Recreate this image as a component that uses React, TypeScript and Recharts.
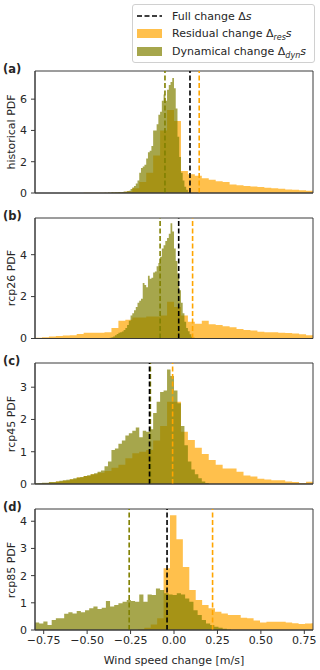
import React from "react";
import { Area, ComposedChart, ReferenceArea, ReferenceLine, XAxis, YAxis } from "recharts";

const X_TICKS = [-0.75, -0.5, -0.25, 0, 0.25, 0.5, 0.75];
const SCENARIOS = ["historical", "rcp26", "rcp45", "rcp85"];
const PANEL_TAGS = ["(a)", "(b)", "(c)", "(d)"];
const Y_MAX = [7.8, 5.75, 3.75, 4.45];
const Y_TICKS = [[0, 2, 4, 6], [0, 2, 4], [0, 1, 2, 3], [0, 1, 2, 3, 4]];

// residual change (orange) – bins start / width, then heights
const resStart = [-0.8, -0.8, -0.8, -0.8];
const resWidth = [0.04, 0.04, 0.04, 0.037];
const resHistorical = [
  0, 0, 0, 0, 0, 0, 0, 0.01, 0.01, 0.01, 0.02, 0.03, 0.05, 0.1, 0.3, 0.7, 1.3, 2.4, 4.0, 5.3,
  4.6, 1.4, 1.2, 1.1, 0.95, 0.85, 0.75, 0.7, 0.55, 0.5, 0.45, 0.42, 0.38, 0.33, 0.3, 0.27, 0.22, 0.2, 0.17, 0.14,
];
const resRcp26 = [
  0.03, 0.06, 0.1, 0.12, 0.14, 0.16, 0.22, 0.27, 0.27, 0.28, 0.3, 0.5, 0.85, 0.9, 1.0, 1.0, 1.05, 1.05, 1.1, 1.75,
  1.5, 1.1, 0.8, 0.7, 0.85, 0.68, 0.65, 0.58, 0.54, 0.45, 0.4, 0.38, 0.32, 0.3, 0.3, 0.28, 0.26, 0.24, 0.2, 0.15,
];
const resRcp45 = [
  0, 0.02, 0.05, 0.08, 0.1, 0.15, 0.2, 0.25, 0.3, 0.35, 0.4, 0.5, 0.6, 0.8, 0.95, 1.0, 1.05, 1.35, 1.8, 2.55,
  2.55, 1.62, 1.36, 1.12, 0.93, 0.74, 0.6, 0.48, 0.48, 0.38, 0.26, 0.23, 0.16, 0.14, 0.12, 0.12, 0.08, 0.06, 0.03, 0.07,
];
const resRcp85 = [
  0, 0, 0, 0, 0, 0, 0, 0, 0, 0, 0, 0, 0, 0, 0, 0, 0.03, 0.08, 0.2, 0.43,
  2.27, 4.22, 3.34, 2.32, 1.47, 1.1, 0.92, 0.8, 0.67, 0.61, 0.55, 0.55, 0.45, 0.43, 0.35, 0.28, 0.3, 0.3, 0.3, 0.28,
  0.25, 0.22, 0.24, 0.25,
];

// dynamical change (olive)
const dynStart = [-0.4, -0.4, -0.8, -0.8];
const dynWidth = [0.01, 0.01, 0.02, 0.024];
const dynHistorical = [
  0.02, 0, 0.03, 0.02, 0.04, 0.03, 0.05, 0.04, 0.06, 0.05, 0.07, 0.1, 0.08, 0.12, 0.15, 0.25, 0.35, 0.45, 0.6, 0.8,
  1.3, 1.6, 1.7, 1.8, 2.2, 2.6, 2.7, 3.0, 4.0, 4.0, 4.4, 5.0, 5.2, 5.9, 6.3, 5.9, 6.6, 6.9, 7.1, 7.35,
  6.7, 5.4, 3.6, 2.3, 1.3, 0.8, 0.4, 0.2, 0.06,
];
const dynRcp26 = [
  0.01, 0.02, 0.02, 0.04, 0.06, 0.1, 0.15, 0.22, 0.27, 0.3, 0.33, 0.4, 0.5, 0.65, 0.85, 1.1, 1.2, 1.35, 1.5, 1.7,
  1.8, 1.9, 2.65, 2.55, 2.45, 3.0, 2.85, 2.9, 3.15, 3.2, 3.45, 3.6, 3.9, 4.3, 4.45, 4.65, 4.8, 5.0, 5.5, 5.1,
  4.3, 3.7, 3.1, 2.3, 1.7, 1.2, 0.8, 0.5, 0.35, 0.2, 0.08, 0.03,
];
const dynRcp45 = [
  0.02, 0.03, 0.04, 0.04, 0.06, 0.06, 0.08, 0.1, 0.12, 0.13, 0.15, 0.18, 0.2, 0.22, 0.25, 0.27, 0.3, 0.33, 0.38, 0.42,
  0.55, 0.7, 1.05, 1.1, 1.25, 1.35, 1.5, 1.57, 1.65, 1.75, 1.45, 1.65, 1.62, 1.7, 2.2, 2.55, 2.85, 2.9, 3.55, 3.35,
  2.9, 2.5, 1.8, 1.2, 0.7, 0.45, 0.3, 0.18, 0.08, 0.03,
];
const dynRcp85 = [
  0.28, 0.24, 0.31, 0.18, 0.37, 0.43, 0.43, 0.6, 0.65, 0.61, 0.7, 0.65, 0.73, 0.8, 0.86, 0.77, 0.82, 1.07, 0.86, 0.92,
  0.98, 1.04, 1.1, 1.07, 1.04, 1.31, 1.04, 1.31, 1.29, 1.53, 1.47, 1.35, 1.31, 1.29, 1.35, 1.31, 1.16, 1.04, 0.73, 0.55,
  0.37, 0.24, 0.18, 0.12, 0.08, 0.05, 0.02,
];

// mean changes (dashed lines)
const fullMean = [0.092, 0.027, -0.141, -0.04];
const resMean = [0.145, 0.107, -0.008, 0.222];
const dynMean = [-0.052, -0.08, -0.136, -0.258];

const resHists = [resHistorical, resRcp26, resRcp45, resRcp85];
const dynHists = [dynHistorical, dynRcp26, dynRcp45, dynRcp85];

const ORANGE = "#FFA500";
const OLIVE = "#808000";
const FRAME = "#3a3a3a";
const TEXT = "#262626";
const FONT = "'DejaVu Sans', sans-serif";

const PANEL_TOP = [71, 217.5, 363, 509];
const PLOT_H = [122, 120.5, 121, 121];

function steps(start: number, width: number, vals: number[]) {
  const pts = vals.map((v, i) => ({ x: start + i * width, y: v }));
  pts.push({ x: start + vals.length * width, y: 0 });
  return pts;
}

const fmtX = (v: number) => (v < 0 ? "\u2212" + Math.abs(v).toFixed(2) : v.toFixed(2));

function Panel({ i }: { i: number }) {
  const last = i === 3;
  const bottomH = last ? 36 : 6;
  const tickStyle = { fill: TEXT, fontSize: 11, fontFamily: FONT };
  const res = steps(resStart[i], resWidth[i], resHists[i]);
  const dyn = steps(dynStart[i], dynWidth[i], dynHists[i]);
  return (
    <div style={{ position: "absolute", left: 0, top: PANEL_TOP[i] - 5 }}>
      <ComposedChart width={320} height={5 + PLOT_H[i] + bottomH} margin={{ top: 5, right: 7, bottom: 0, left: 0 }}>
        <XAxis xAxisId="b" type="number" dataKey="x" domain={[-0.8, 0.8]} allowDataOverflow ticks={X_TICKS}
          tick={last ? tickStyle : false} tickFormatter={fmtX} tickSize={4} tickMargin={2} height={bottomH}
          stroke={FRAME} interval={0}
          label={last ? { value: "Wind speed change [m/s]", position: "insideBottom", offset: 2, fill: TEXT, fontSize: 11, fontFamily: FONT } : undefined} />
        <YAxis yAxisId="l" type="number" domain={[0, Y_MAX[i]]} allowDataOverflow ticks={Y_TICKS[i]} interval={0}
          width={35} tickSize={4} tickMargin={4} tick={tickStyle} stroke={FRAME} />
        <Area xAxisId="b" yAxisId="l" data={res} dataKey="y" type="stepAfter" fill={ORANGE} fillOpacity={0.7}
          stroke="none" isAnimationActive={false} />
        <Area xAxisId="b" yAxisId="l" data={dyn} dataKey="y" type="stepAfter" fill={OLIVE} fillOpacity={0.7}
          stroke="none" isAnimationActive={false} />
        <ReferenceLine xAxisId="b" yAxisId="l" x={dynMean[i]} stroke={OLIVE} strokeWidth={1.6} strokeDasharray="5 2.5" />
        <ReferenceLine xAxisId="b" yAxisId="l" x={resMean[i]} stroke={ORANGE} strokeWidth={1.6} strokeDasharray="5 2.5" />
        <ReferenceLine xAxisId="b" yAxisId="l" x={fullMean[i]} stroke="#000" strokeWidth={1.6} strokeDasharray="5 2.5" />
        <ReferenceArea xAxisId="b" yAxisId="l" x1={-0.8} x2={0.8} y1={0} y2={Y_MAX[i]} fill="none"
          stroke={FRAME} strokeWidth={1} fillOpacity={0} />
      </ComposedChart>
      <div style={{ position: "absolute", left: 3, top: -3, fontSize: 11.5, fontWeight: "bold", color: TEXT, lineHeight: "12px" }}>
        {PANEL_TAGS[i]}
      </div>
      <div style={{
        position: "absolute", left: 12, top: 5 + PLOT_H[i] / 2, transform: "translate(-50%, -50%) rotate(-90deg)",
        whiteSpace: "nowrap", fontSize: 11, color: TEXT, lineHeight: "12px",
      }}>
        {SCENARIOS[i]} PDF
      </div>
    </div>
  );
}

function Legend() {
  const row = { position: "absolute" as const, left: 0, height: 18, display: "flex", alignItems: "center" };
  const sub = { fontSize: 8, fontStyle: "italic" as const, verticalAlign: "-3px" };
  return (
    <div style={{
      position: "absolute", left: 132, top: 4, width: 183, height: 59, border: "1px solid #d0d0d0",
      borderRadius: 3, background: "#fff", fontSize: 11, color: TEXT, boxSizing: "border-box",
    }}>
      <div style={{ ...row, top: 2 }}>
        <svg width={36} height={10} style={{ marginLeft: 3 }}>
          <line x1={1} y1={5} x2={26} y2={5} stroke="#000" strokeWidth={1.6} strokeDasharray="5 2.5" />
        </svg>
        <span>Full change Δ<i>s</i></span>
      </div>
      <div style={{ ...row, top: 20 }}>
        <svg width={36} height={10} style={{ marginLeft: 3 }}>
          <rect x={1} y={0} width={25} height={9} fill={ORANGE} fillOpacity={0.7} />
        </svg>
        <span>Residual change Δ<span style={sub}>res</span><i>s</i></span>
      </div>
      <div style={{ ...row, top: 38 }}>
        <svg width={36} height={10} style={{ marginLeft: 3 }}>
          <rect x={1} y={0} width={25} height={9} fill={OLIVE} fillOpacity={0.7} />
        </svg>
        <span>Dynamical change Δ<span style={sub}>dyn</span><i>s</i></span>
      </div>
    </div>
  );
}

export default function App() {
  return (
    <div style={{ position: "absolute", left: 0, top: 0, width: 320, height: 670, background: "#fff", fontFamily: FONT }}>
      <Legend />
      {[0, 1, 2, 3].map((i) => <Panel key={i} i={i} />)}
    </div>
  );
}
